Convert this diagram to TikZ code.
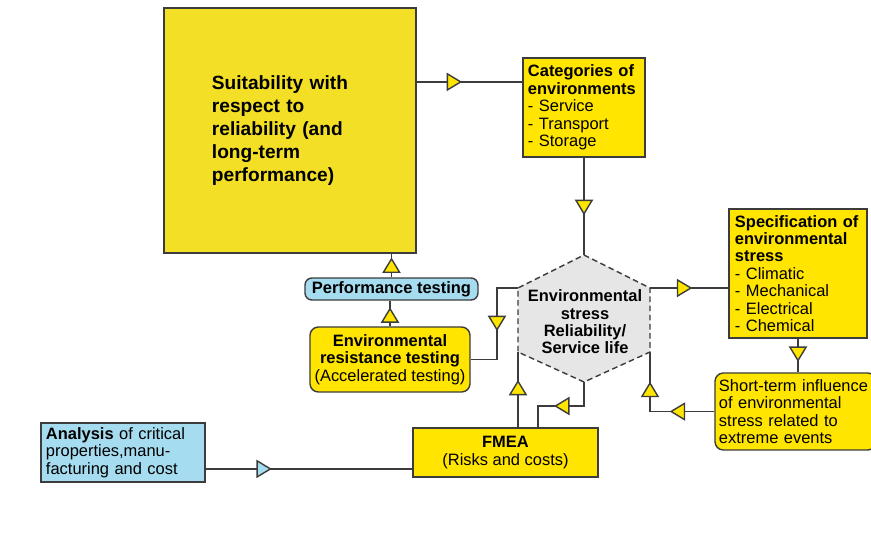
\documentclass[tikz,border=0pt]{standalone}
\usepackage{fontspec}
\setmainfont{Liberation Sans}
\usetikzlibrary{arrows.meta,decorations.markings}

\definecolor{boxyellow}{HTML}{FFE500}
\definecolor{bigyellow}{HTML}{F3E026}
\definecolor{boxblue}{HTML}{A6DCEF}
\definecolor{hexgray}{HTML}{E6E6E6}
\definecolor{edgegray}{HTML}{3C3C3C}

\tikzset{
	box/.style={draw=edgegray, line width=1pt, fill=boxyellow, inner sep=0pt,
		font=\fontsize{11.7}{12.4}\selectfont},
	rbox/.style={box, rounded corners=6pt},
	bluebox/.style={box, fill=boxblue},
	bigbox/.style={box, fill=bigyellow, align=left,
		font=\fontsize{13.6}{16.3}\selectfont\bfseries},
	link/.style={draw=edgegray, line width=1pt},
	yellowtip/.tip={Triangle[length=11pt, width=13pt, fill=boxyellow]},
	bluetip/.tip={Triangle[length=11pt, width=13pt, fill=boxblue]},
	tri/.style={postaction={decorate, decoration={markings,
		mark=at position #1 with {\arrow{yellowtip}}}}},
	bluetri/.style={postaction={decorate, decoration={markings,
		mark=at position #1 with {\arrow{bluetip}}}}},
}

\begin{document}
\begin{tikzpicture}[x=0.025cm, y=-0.025cm]
	\useasboundingbox (0,0) rectangle (871,535);

	\coordinate (hT) at (584,255);
	\coordinate (hUR) at (650,288);
	\coordinate (hLR) at (650,352);
	\coordinate (hB) at (584,382);
	\coordinate (hLL) at (518,352);
	\coordinate (hUL) at (518,288);
	\filldraw[fill=hexgray, draw=edgegray, line width=1pt, dash pattern=on 4pt off 2.5pt]
		(hT) -- (hUR) -- (hLR) -- (hB) -- (hLL) -- (hUL) -- cycle;
	\node[align=center, font=\fontsize{11.7}{12.3}\selectfont\bfseries] (env) at (585,322)
		{Environmental\\stress\\Reliability/\\Service life};

	\node[bigbox, minimum width=6.3cm, minimum height=6.125cm, text width=3.9cm] (suit) at (290,130.5)
		{Suitability with\\respect to\\reliability (and\\long-term\\performance)};
	\node[box, minimum width=3.05cm, minimum height=2.475cm, text width=2.8cm, align=left] (cat) at (584,107.5)
		{\textbf{Categories of}\\\textbf{environments}\\- Service\\- Transport\\- Storage};
	\node[box, minimum width=3.45cm, minimum height=3.225cm, text width=3.15cm, align=left] (spec) at (798,273.5)
		{\textbf{Specification of}\\\textbf{environmental}\\\textbf{stress}\\- Climatic\\- Mechanical\\- Electrical\\- Chemical};
	\node[rbox, minimum width=4.025cm, minimum height=1.925cm, text width=3.825cm, align=left] (short) at (795.5,411.5)
		{Short-term influence\\of environmental\\stress related to\\extreme events};
	\node[rbox, minimum width=4cm, minimum height=1.625cm, align=center] (envres) at (390,359.5)
		{\textbf{Environmental}\\\textbf{resistance testing}\\(Accelerated testing)};
	\node[bluebox, rounded corners=5pt, minimum width=4.325cm, minimum height=0.55cm] (perf) at (391.5,289)
		{\textbf{Performance testing}};
	\node[box, minimum width=4.625cm, minimum height=1.225cm, align=center] (fmea) at (505.5,452.5)
		{\textbf{FMEA}\\(Risks and costs)};
	\node[bluebox, minimum width=4.1cm, minimum height=1.475cm, text width=3.85cm, align=left] (ana) at (123,452.5)
		{\textbf{Analysis} of critical\\properties,manu-\\facturing and cost};

	\coordinate (catin) at ([yshift=6.4mm]cat.west);
	\coordinate (fmeain) at ([xshift=8.1mm]fmea.north);

	\draw[link, tri=0.43] (suit.east |- catin) -- (catin);
	\draw[link, tri=0.59] (cat.south) -- (hT);
	\draw[link, tri=0.54] (hUR) -- (hUR -| spec.west);
	\draw[link, tri=0.69] (spec.south) -- (spec.south |- short.north);
	\draw[link, tri=0.36, tri=0.76] (short.west) -| (hLR);
	\draw[link, tri=0.59] (hB) -- ++(0,24) -| (fmeain);
	\draw[link, tri=0.63] (fmea.north -| hLL) -- (hLL);
	\draw[link, tri=0.54] (hUL) -- ++(-21,0) |- (envres.east);
	\draw[link, tri=0.74] (envres.north) -- (envres.north |- perf.south);
	\draw[link, tri=0.84] (perf.north) -- (perf.north |- suit.south);
	\draw[link, bluetri=0.32] ([yshift=-4.1mm]ana.east) -- ([yshift=-4.1mm]ana.east -| fmea.west);
\end{tikzpicture}
\end{document}
